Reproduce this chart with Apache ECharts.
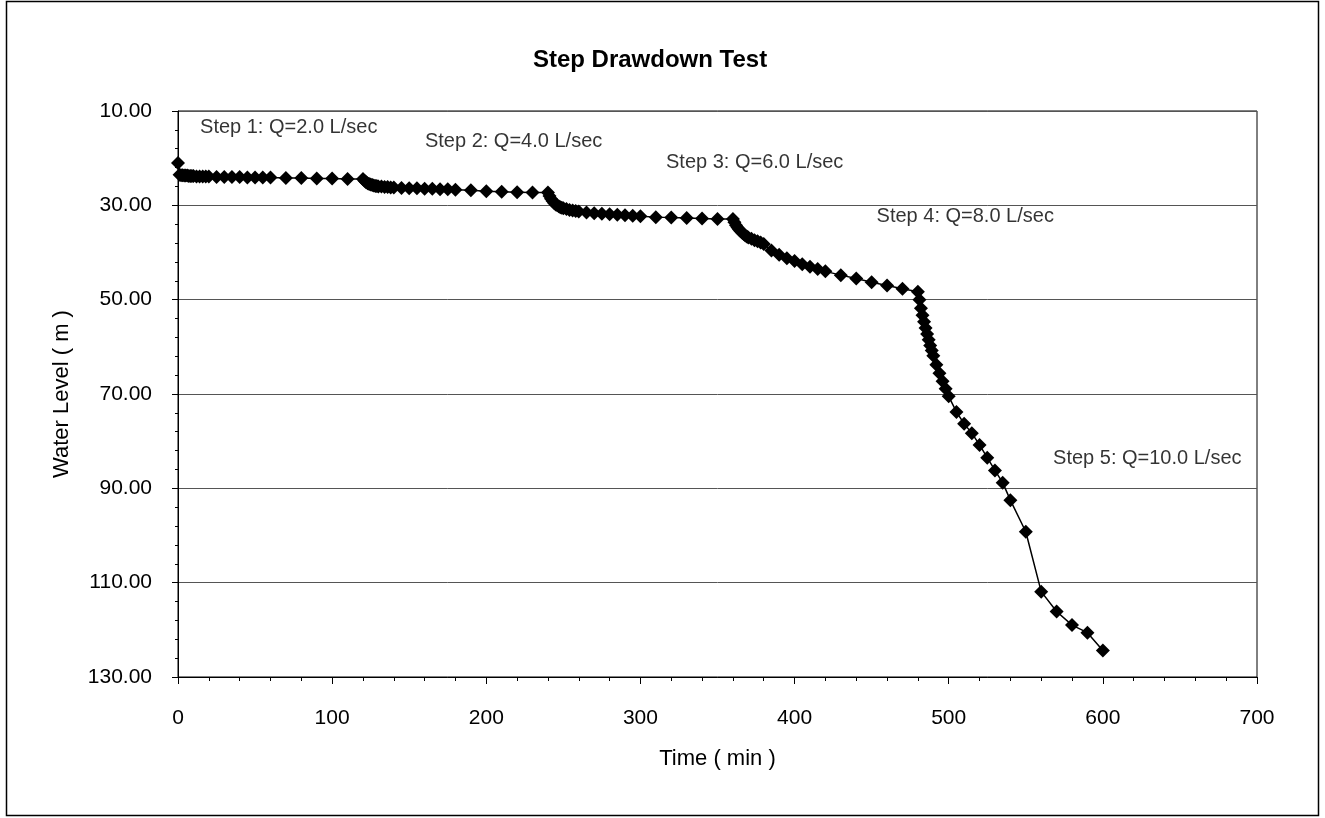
<!DOCTYPE html>
<html>
<head>
<meta charset="utf-8">
<script src="https://cdn.jsdelivr.net/npm/echarts@6/dist/echarts.min.js"></script>
<style>
html,body{margin:0;padding:0;background:#fff;}
#chart{width:1325px;height:818px;}
</style>
</head>
<body>
<div id="chart"></div>
<script>
// ---- data ----
const chartTitle = 'Step Drawdown Test';
const xAxisName = 'Time ( min )';
const yAxisName = 'Water Level ( m )';

const timeMin = [
  0,1,2,3,4,5,6,7,8,9,10,12,14,16,18,20,25,30,35,40,45,50,55,60,70,80,90,100,110,120,
  121,122,123,124,125,126,127,128,129,130,132,134,136,138,140,145,150,155,160,165,170,175,180,190,200,210,220,230,240,
  241,242,243,244,245,246,247,248,249,250,252,254,256,258,260,265,270,275,280,285,290,295,300,310,320,330,340,350,360,
  361,362,363,364,365,366,367,368,369,370,372,374,376,378,380,385,390,395,400,405,410,415,420,430,440,450,460,470,480,
  481,482,483,484,485,486,487,488,489,490,492,494,496,498,500,505,510,515,520,525,530,535,540,550,560,570,580,590,600
];
const waterLevel = [
  21.0,23.5,23.6,23.6,23.7,23.7,23.7,23.8,23.8,23.8,23.8,23.9,23.9,23.9,23.9,23.9,24.0,24.0,24.0,24.0,24.1,24.1,24.1,24.1,24.2,24.2,24.3,24.3,24.4,24.4,
  24.8,25.1,25.3,25.5,25.6,25.7,25.8,25.9,25.9,26.0,26.0,26.1,26.1,26.2,26.2,26.3,26.4,26.4,26.5,26.5,26.6,26.6,26.7,26.8,27.0,27.1,27.2,27.3,27.3,
  28.0,28.6,29.1,29.5,29.8,30.0,30.2,30.4,30.5,30.6,30.8,31.0,31.1,31.2,31.3,31.5,31.7,31.8,31.9,32.0,32.1,32.2,32.3,32.5,32.6,32.7,32.8,32.9,32.9,
  33.6,34.2,34.7,35.1,35.5,35.8,36.1,36.4,36.6,36.8,37.1,37.4,37.6,37.9,38.2,39.6,40.5,41.2,41.8,42.5,43.0,43.5,44.0,44.8,45.5,46.3,47.0,47.7,48.3,
  50.0,51.8,53.3,54.7,56.0,57.3,58.5,59.7,60.8,61.9,63.8,65.6,67.3,68.9,70.5,73.8,76.3,78.3,80.8,83.5,86.2,88.8,92.5,99.2,111.9,116.1,119.0,120.6,124.4
];

const stepLabels = ['Step 1: Q=2.0 L/sec','Step 2: Q=4.0 L/sec','Step 3: Q=6.0 L/sec','Step 4: Q=8.0 L/sec','Step 5: Q=10.0 L/sec'];
const stepLabelTime = [14.3, 160.2, 316.6, 453.2, 567.7];
const stepLabelLevel = [13.6, 16.5, 21.0, 32.4, 83.6];

const xTicks = { min: 0, max: 700, interval: 100 };
const yTicks = { min: 10, max: 130, interval: 20 };

const FONT = "'Liberation Sans',Arial,sans-serif";

const chart = echarts.init(document.getElementById('chart'));
const lineData = timeMin.map((t, i) => [t, waterLevel[i]]);
const labelData = stepLabels.map((s, i) => ({ value: [stepLabelTime[i], stepLabelLevel[i]], name: s }));

chart.setOption({
  animation: false,
  backgroundColor: '#fff',
  title: {
    text: chartTitle,
    left: 645, textAlign: 'center',
    top: 43,
    textStyle: { fontFamily: FONT, fontSize: 24, fontWeight: 'bold', color: '#000' }
  },
  grid: { left: 178, right: 68, top: 111, bottom: 141, show: true, borderColor: '#000', borderWidth: 1 },
  graphic: [{
    type: 'rect', silent: true,
    shape: { x: 6.5, y: 1.5, width: 1312, height: 814 },
    style: { fill: 'none', stroke: '#000', lineWidth: 1.5 }
  }],
  xAxis: {
    type: 'value', min: xTicks.min, max: xTicks.max, interval: xTicks.interval,
    name: xAxisName, nameLocation: 'middle', nameGap: 71,
    nameTextStyle: { fontFamily: FONT, fontSize: 22, color: '#000' },
    axisLine: { show: true, onZero: false, lineStyle: { color: '#000', width: 1 } },
    axisTick: { show: true, length: 7, lineStyle: { color: '#000' } },
    minorTick: { show: true, splitNumber: 5, length: 4, lineStyle: { color: '#000' } },
    axisLabel: { fontFamily: FONT, fontSize: 21, color: '#000', margin: 31 },
    splitLine: { show: false }
  },
  yAxis: {
    type: 'value', inverse: true, min: yTicks.min, max: yTicks.max, interval: yTicks.interval,
    name: yAxisName, nameLocation: 'middle', nameGap: 105, nameRotate: 90,
    nameTextStyle: { fontFamily: FONT, fontSize: 22, color: '#000' },
    axisLine: { show: true, lineStyle: { color: '#000', width: 1 } },
    axisTick: { show: true, length: 6, lineStyle: { color: '#000' } },
    minorTick: { show: true, splitNumber: 5, length: 3, lineStyle: { color: '#000' } },
    axisLabel: { fontFamily: FONT, fontSize: 21, color: '#000', margin: 26, formatter: v => v.toFixed(2) },
    splitLine: { show: true, lineStyle: { color: '#555', width: 1 } }
  },
  series: [
    {
      type: 'line', data: lineData,
      symbol: 'diamond', symbolSize: 14, showAllSymbol: true,
      itemStyle: { color: '#000' },
      lineStyle: { color: '#000', width: 1.5 }
    },
    {
      type: 'scatter', data: labelData, symbolSize: 0, silent: true,
      label: {
        show: true, position: 'right', distance: 0,
        formatter: p => p.name,
        fontFamily: FONT, fontSize: 20, color: '#000'
      }
    }
  ]
});
</script>
</body>
</html>
